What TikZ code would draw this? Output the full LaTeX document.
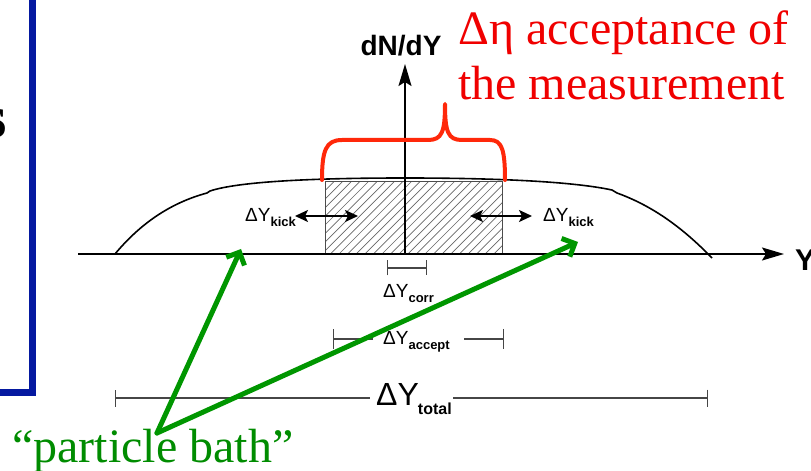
\documentclass[tikz,border=0pt]{standalone}
\usepackage{fontspec}
\setmainfont{Liberation Serif}
\newfontfamily\sansf{Liberation Sans}
\usetikzlibrary{arrows.meta}
\definecolor{frameblue}{RGB}{5,25,160}
\definecolor{bracered}{RGB}{255,40,10}
\definecolor{txtred}{RGB}{240,0,0}
\definecolor{pbgreen}{RGB}{0,140,0}
\definecolor{arrgreen}{RGB}{0,150,0}
\definecolor{measgray}{RGB}{70,70,70}
\newcommand\dsub[3]{\raisebox{-#2}{\fontsize{#1}{#1}\selectfont\bfseries #3}}
\begin{document}
\begin{tikzpicture}[x=1bp,y=-1bp,
  axisline/.style={line width=1.6bp,-{Stealth[length=22bp,width=13bp,inset=4bp]}},
  curveline/.style={line width=1.6bp,line join=round},
  hatchline/.style={line width=0.7bp,color=black!60},
  kickarrow/.style={line width=2bp,{Stealth[length=13bp,width=12bp,inset=3bp]}-{Stealth[length=13bp,width=12bp,inset=3bp]}},
  measline/.style={line width=1.4bp,color=measgray},
  lblsmall/.style={inner sep=0,font=\sansf\fontsize{19bp}{19bp}\selectfont,anchor=base west},
  greenarrow/.style={arrgreen,line width=5bp,line cap=round,-{Straight Barb[length=10bp,width=20bp,line width=5bp]}},
  bigtext/.style={inner sep=0,anchor=base west,font=\fontsize{48bp}{52bp}\selectfont}]
\useasboundingbox (0,0) rectangle (811,471);
\clip (0,0) rectangle (811,471);

% blue frame fragment and cut-off letter
\node[inner sep=0,anchor=base east,font=\bfseries\fontsize{60bp}{60bp}\selectfont] (sfrag) at (7,138) {s};
\draw[frameblue,line width=7bp] (32,-10) -- (32,392) -- (-10,392);

% hatched acceptance window
\begin{scope}
  \clip (325,182) rectangle (502,254);
  \foreach \i in {0,...,30} {
    \draw[hatchline] ({253+8.6*\i},254) -- ({325+8.6*\i},182);
  }
\end{scope}
\draw[line width=1bp,color=black!70] (325,254) -- (325,182) -- (502,182) -- (502,254);

% distribution curve
\draw[curveline] (115,254) .. controls (140,224) and (170,203) .. (207,193) -- (210,191)
  .. controls (240,181) and (320,178) .. (405,178)
  .. controls (490,178) and (570,181) .. (612,190) -- (617,193)
  .. controls (650,205) and (680,225) .. (712,258);

% axes
\coordinate (O) at (405,254);
\coordinate (xstart) at (78,254);
\coordinate (xend) at (784,254);
\coordinate (yend) at (405,64);
\draw[axisline] (xstart) -- (xend);
\draw[axisline] (O) -- (yend);
\node[inner sep=0,anchor=base west,font=\sansf\bfseries\fontsize{30bp}{30bp}\selectfont] (ylab) at (795,271) {Y};
\node[inner sep=0,anchor=base,font=\sansf\bfseries\fontsize{28bp}{28bp}\selectfont] (dndy) at (401,56) {dN/dY};

% red brace
\draw[bracered,line width=4bp,line cap=round,line join=round]
  (322,180) .. controls (322,150) and (326,140) .. (342,140) -- (428,140)
  .. controls (442,140) and (445,132) .. (445,104)
  .. controls (445,132) and (448,140) .. (462,140) -- (490,140)
  .. controls (502,140) and (505,150) .. (505,180);
\node[bigtext,txtred] (acc1) at (458,45) {Δη acceptance of};
\node[bigtext,txtred] (acc2) at (458,100) {the measurement};

% kick arrows
\coordinate (kl1) at (295,216);
\coordinate (kl2) at (358,216);
\coordinate (kr1) at (470,216);
\coordinate (kr2) at (532,216);
\draw[kickarrow] (kl1) -- (kl2);
\draw[kickarrow] (kr1) -- (kr2);
\node[lblsmall] (kickL) at (245,222) {ΔY\dsub{13bp}{5bp}{kick}};
\node[lblsmall] (kickR) at (543,222) {ΔY\dsub{13bp}{5bp}{kick}};

% correlation length
\coordinate (cl) at (387,268);
\coordinate (cr) at (427,268);
\draw[measline,{Bar[width=15bp]}-{Bar[width=15bp]}] (cl) -- (cr);
\node[lblsmall] (corr) at (383,298) {ΔY\dsub{13bp}{5bp}{corr}};

% acceptance
\coordinate (al1) at (333,339);
\coordinate (al2) at (373,339);
\coordinate (ar1) at (464,339);
\coordinate (ar2) at (504,339);
\draw[measline,{Bar[width=20bp]}-] (al1) -- (al2);
\draw[measline,-{Bar[width=20bp]}] (ar1) -- (ar2);
\node[lblsmall] (accept) at (383,345) {ΔY\dsub{13bp}{5bp}{accept}};

% total
\coordinate (tl1) at (115,398);
\coordinate (tl2) at (370,398);
\coordinate (tr1) at (453,398);
\coordinate (tr2) at (708,398);
\draw[measline,{Bar[width=17bp]}-] (tl1) -- (tl2);
\draw[measline,-{Bar[width=17bp]}] (tr1) -- (tr2);
\node[inner sep=0,anchor=base west,font=\sansf\fontsize{32bp}{32bp}\selectfont] (total) at (376,405) {ΔY\kern-1bp\dsub{16bp}{9bp}{total}};

% particle bath
\coordinate (pbv) at (157,433);
\coordinate (pbt1) at (241,249);
\coordinate (pbt2) at (578,242);
\draw[greenarrow] (pbv) -- (pbt1);
\draw[greenarrow] (pbv) -- (pbt2);
\node[bigtext,pbgreen] (pb) at (12,462) {“particle bath”};
\end{tikzpicture}
\end{document}
